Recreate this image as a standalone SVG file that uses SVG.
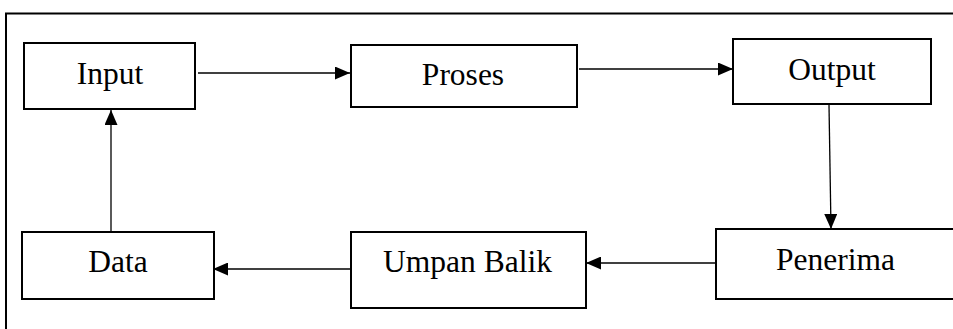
<svg xmlns="http://www.w3.org/2000/svg" width="953" height="329" viewBox="0 0 953 329">
  <style>
    .box { fill: #ffffff; stroke: #000000; stroke-width: 2; }
    .lbl { font-family: "Liberation Serif", "Times New Roman", serif; font-size: 31.5px; fill: #000000; text-anchor: middle; }
    .con { stroke: #000000; stroke-width: 1.3; fill: none; marker-end: url(#ah); }
    .frame { stroke: #000000; stroke-width: 2; fill: none; }
  </style>
  <defs>
    <marker id="ah" markerUnits="userSpaceOnUse" markerWidth="15" markerHeight="13" refX="15" refY="6.5" orient="auto">
      <path d="M0,0 L15,6.5 L0,13 z" fill="#000000"/>
    </marker>
  </defs>
  <rect width="953" height="329" fill="#ffffff"/>
  <g id="frame">
    <path class="frame" d="M5,13.5 H953 M6,13 V329"/>
  </g>
  <g id="connectors">
    <line class="con" x1="198" y1="73" x2="350" y2="73"/>
    <line class="con" x1="579" y1="69" x2="733" y2="69"/>
    <line class="con" x1="829" y1="105" x2="831" y2="229"/>
    <line class="con" x1="716" y1="263" x2="586" y2="263"/>
    <line class="con" x1="350" y1="269" x2="213" y2="269"/>
    <line class="con" x1="111" y1="231" x2="111" y2="110"/>
  </g>
  <g id="input">
    <rect class="box" x="24" y="43" width="171" height="66"/>
    <text class="lbl" x="110" y="84">Input</text>
  </g>
  <g id="proses">
    <rect class="box" x="351" y="45" width="226" height="62"/>
    <text class="lbl" x="463" y="85">Proses</text>
  </g>
  <g id="output">
    <rect class="box" x="733" y="39" width="198" height="65"/>
    <text class="lbl" x="832" y="80">Output</text>
  </g>
  <g id="penerima">
    <rect class="box" x="716" y="229" width="245" height="70"/>
    <text class="lbl" x="835.5" y="270">Penerima</text>
  </g>
  <g id="umpan-balik">
    <rect class="box" x="351" y="232" width="235" height="76"/>
    <text class="lbl" x="467.5" y="271.5">Umpan Balik</text>
  </g>
  <g id="data">
    <rect class="box" x="22" y="232" width="192" height="67"/>
    <text class="lbl" x="118" y="271.5">Data</text>
  </g>
</svg>
